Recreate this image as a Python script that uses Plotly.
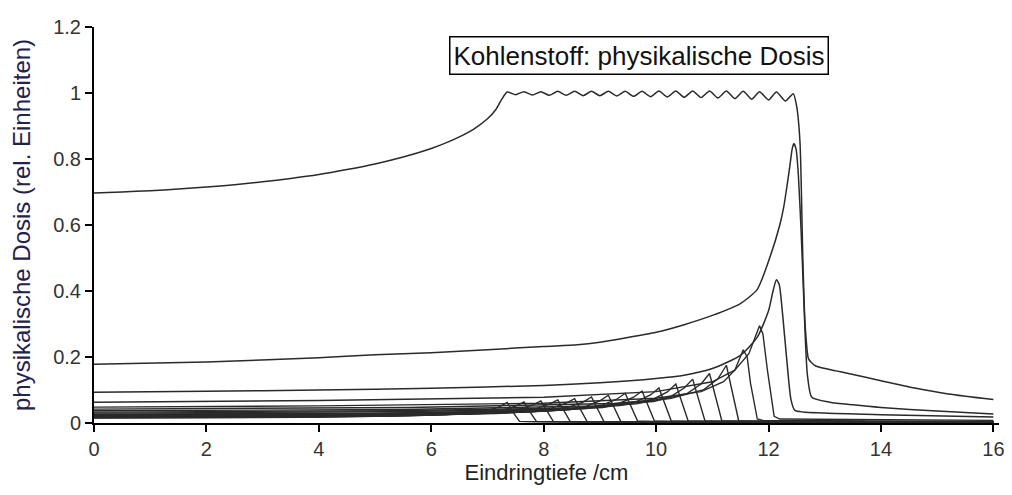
import plotly.graph_objects as go

# ---- Data ----
sobp_x = [0, 0.5, 1, 1.5, 2, 2.5, 3, 3.5, 4, 4.5, 5, 5.5, 6, 6.25, 6.5, 6.75, 7.0, 7.15, 7.25, 7.35, 7.5, 7.65,
          7.8, 7.95, 8.1, 8.25, 8.4, 8.55, 8.7, 8.85, 9.0, 9.15, 9.3, 9.45, 9.6, 9.75, 9.9, 10.05, 10.2, 10.35,
          10.5, 10.65, 10.8, 10.95, 11.1, 11.25, 11.4, 11.55, 11.7, 11.84, 12.0, 12.14, 12.3, 12.44, 12.5,
          12.56, 12.61, 12.65, 12.71, 12.77, 12.85, 13.2, 13.4, 14.0, 14.6, 15.2, 16.0]
sobp_y = [0.697, 0.700, 0.704, 0.709, 0.715, 0.722, 0.731, 0.741, 0.753, 0.768, 0.785, 0.806, 0.832, 0.848,
          0.867, 0.89, 0.922, 0.95, 0.98, 1.003, 0.995, 1.004, 0.994, 1.004, 0.993, 1.005, 0.993, 1.005, 0.992,
          1.005, 0.992, 1.005, 0.991, 1.005, 0.990, 1.005, 0.989, 1.006, 0.988, 1.006, 0.987, 1.006, 0.986,
          1.006, 0.985, 1.006, 0.983, 1.005, 0.981, 1.004, 0.979, 1.003, 0.976, 0.998, 0.96, 0.85, 0.5, 0.3,
          0.195, 0.182, 0.172, 0.158, 0.151, 0.128, 0.106, 0.088, 0.071]

p1_x = [0, 2, 4, 5, 6, 7, 8, 8.6, 9, 10, 10.5, 11, 11.5, 11.8, 12.03, 12.2, 12.27, 12.33, 12.38, 12.42, 12.45,
        12.49, 12.53, 12.58, 12.62, 12.69, 12.77, 13.09, 13.5, 14, 15, 16]
p1_y = [0.178, 0.185, 0.198, 0.207, 0.213, 0.222, 0.232, 0.237, 0.245, 0.275, 0.298, 0.326, 0.362, 0.405, 0.505,
        0.6, 0.654, 0.72, 0.78, 0.83, 0.847, 0.83, 0.753, 0.58, 0.406, 0.148, 0.078, 0.063, 0.055, 0.047, 0.036, 0.027]

p2_x = [0, 2, 4, 6, 8, 9, 10, 10.5, 11, 11.5, 11.8, 12.0, 12.08, 12.14, 12.19, 12.25, 12.32, 12.4, 12.47, 13, 14, 16]
p2_y = [0.093, 0.096, 0.1, 0.105, 0.114, 0.122, 0.135, 0.145, 0.165, 0.205, 0.26, 0.34, 0.4, 0.434, 0.42, 0.33,
        0.2, 0.07, 0.038, 0.03, 0.025, 0.018]

p3_x = [0, 4, 8, 10, 11, 11.4, 11.65, 11.78, 11.84, 11.9, 11.98, 12.1, 12.2, 16]
p3_y = [0.063, 0.068, 0.078, 0.095, 0.125, 0.16, 0.21, 0.27, 0.295, 0.27, 0.16, 0.02, 0.012, 0.008]

p4_x = [0, 4, 8, 10, 10.8, 11.2, 11.4, 11.5, 11.55, 11.62, 11.68, 11.8, 11.9, 16]
p4_y = [0.048, 0.052, 0.06, 0.075, 0.095, 0.125, 0.16, 0.205, 0.222, 0.2, 0.12, 0.012, 0.008, 0.005]

p5_x = [0, 5.6, 9.25, 10.25, 10.85, 11.1, 11.25, 11.35, 11.47, 11.75, 16]
p5_y = [0.042, 0.047, 0.059, 0.074, 0.101, 0.134, 0.175, 0.096, 0.006, 0.005, 0.003]
p6_x = [0, 5.5, 8.95, 9.95, 10.55, 10.8, 10.95, 11.05, 11.17, 11.45, 16]
p6_y = [0.037, 0.041, 0.052, 0.065, 0.089, 0.118, 0.150, 0.083, 0.006, 0.005, 0.003]
p7_x = [0, 5.3, 8.65, 9.65, 10.25, 10.5, 10.65, 10.75, 10.87, 11.15, 16]
p7_y = [0.033, 0.037, 0.046, 0.058, 0.079, 0.106, 0.133, 0.073, 0.006, 0.005, 0.003]
p8_x = [0, 5.2, 8.35, 9.35, 9.95, 10.2, 10.35, 10.45, 10.57, 10.85, 16]
p8_y = [0.030, 0.034, 0.042, 0.053, 0.072, 0.094, 0.118, 0.065, 0.006, 0.005, 0.003]
p9_x = [0, 5.0, 8.05, 9.05, 9.65, 9.9, 10.05, 10.15, 10.27, 10.55, 16]
p9_y = [0.027, 0.030, 0.038, 0.047, 0.065, 0.085, 0.106, 0.058, 0.006, 0.005, 0.003]
p10_x = [0, 4.9, 7.75, 8.75, 9.35, 9.6, 9.75, 9.85, 9.97, 10.25, 16]
p10_y = [0.025, 0.028, 0.035, 0.044, 0.060, 0.078, 0.097, 0.053, 0.006, 0.005, 0.003]
p11_x = [0, 4.7, 7.45, 8.45, 9.05, 9.3, 9.45, 9.55, 9.67, 9.95, 16]
p11_y = [0.023, 0.026, 0.032, 0.040, 0.055, 0.072, 0.090, 0.050, 0.006, 0.005, 0.003]
p12_x = [0, 4.6, 7.15, 8.15, 8.75, 9.0, 9.15, 9.25, 9.37, 9.65, 16]
p12_y = [0.021, 0.024, 0.029, 0.037, 0.050, 0.067, 0.084, 0.046, 0.005, 0.004, 0.003]
p13_x = [0, 4.4, 6.85, 7.85, 8.45, 8.7, 8.85, 8.95, 9.07, 9.35, 16]
p13_y = [0.020, 0.022, 0.028, 0.035, 0.048, 0.063, 0.079, 0.043, 0.005, 0.004, 0.003]
p14_x = [0, 4.3, 6.55, 7.55, 8.15, 8.4, 8.55, 8.65, 8.77, 9.05, 16]
p14_y = [0.019, 0.021, 0.027, 0.033, 0.046, 0.060, 0.074, 0.041, 0.005, 0.004, 0.003]
p15_x = [0, 4.1, 6.25, 7.25, 7.85, 8.1, 8.25, 8.35, 8.47, 8.75, 16]
p15_y = [0.018, 0.020, 0.025, 0.032, 0.043, 0.057, 0.070, 0.039, 0.005, 0.004, 0.003]
p16_x = [0, 4.0, 5.95, 6.95, 7.55, 7.8, 7.95, 8.05, 8.17, 8.45, 16]
p16_y = [0.017, 0.019, 0.024, 0.030, 0.041, 0.054, 0.067, 0.037, 0.005, 0.004, 0.003]
p17_x = [0, 3.8, 5.65, 6.65, 7.25, 7.5, 7.65, 7.75, 7.87, 8.15, 16]
p17_y = [0.016, 0.018, 0.022, 0.028, 0.038, 0.051, 0.064, 0.035, 0.005, 0.004, 0.003]
p18_x = [0, 3.7, 5.35, 6.35, 6.95, 7.2, 7.35, 7.45, 7.57, 7.85, 16]
p18_y = [0.015, 0.017, 0.021, 0.026, 0.036, 0.048, 0.062, 0.034, 0.005, 0.004, 0.003]

y_ticks = [0, 0.2, 0.4, 0.6, 0.8, 1, 1.2]
y_tick_labels = ["0", "0.2", "0.4", "0.6", "0.8", "1", "1.2"]
x_ticks = [0, 2, 4, 6, 8, 10, 12, 14, 16]
x_tick_labels = ["0", "2", "4", "6", "8", "10", "12", "14", "16"]

smooth_curves = [(sobp_x, sobp_y), (p1_x, p1_y), (p2_x, p2_y)]
sharp_curves = [
    (p3_x, p3_y), (p4_x, p4_y),
    (p5_x, p5_y), (p6_x, p6_y), (p7_x, p7_y), (p8_x, p8_y), (p9_x, p9_y),
    (p10_x, p10_y), (p11_x, p11_y), (p12_x, p12_y), (p13_x, p13_y), (p14_x, p14_y),
    (p15_x, p15_y), (p16_x, p16_y), (p17_x, p17_y), (p18_x, p18_y),
]

fig = go.Figure()
for cx, cy in sharp_curves:
    fig.add_trace(go.Scatter(x=cx, y=cy, mode="lines",
                             line=dict(color="#2a2a2a", width=1.4),
                             showlegend=False, hoverinfo="skip"))
for cx, cy in smooth_curves:
    fig.add_trace(go.Scatter(x=cx, y=cy, mode="lines",
                             line=dict(color="#2a2a2a", width=1.5, shape="spline", smoothing=0.6),
                             showlegend=False, hoverinfo="skip"))

font_main = "Liberation Sans, Arial, sans-serif"
fig.add_annotation(x=9.7, y=1.114, xref="x", yref="y",
                   text="Kohlenstoff: physikalische Dosis", showarrow=False,
                   font=dict(family=font_main, size=26, color="#111"),
                   bordercolor="#000", borderwidth=1.5, borderpad=3, bgcolor="white")

# page body has an 8px margin, so the figure is slightly smaller than the window
fig.update_layout(
    width=1004, height=487,
    margin=dict(l=85, r=8, t=12, b=72),
    paper_bgcolor="white", plot_bgcolor="white",
    font=dict(family=font_main, color="#333"),
)
fig.update_xaxes(range=[0, 16.1], tickmode="array", tickvals=x_ticks, ticktext=x_tick_labels,
                 showgrid=False, zeroline=False, showline=True, linecolor="#000", linewidth=2,
                 ticks="outside", ticklen=7, tickwidth=2, tickcolor="#000",
                 tickfont=dict(size=20, color="#333", family=font_main),
                 title=dict(text="Eindringtiefe /cm", font=dict(size=22, color="#222", family=font_main),
                            standoff=4))
fig.update_yaxes(range=[0, 1.2], tickmode="array", tickvals=y_ticks, ticktext=y_tick_labels,
                 showgrid=False, zeroline=False, showline=True, linecolor="#000", linewidth=2,
                 ticks="outside", ticklen=7, tickwidth=2, tickcolor="#000",
                 tickfont=dict(size=20, color="#333", family=font_main),
                 title=dict(text="physikalische Dosis (rel. Einheiten)",
                            font=dict(size=24, color="#22224a", family=font_main), standoff=20))

fig.write_html("out.html")
